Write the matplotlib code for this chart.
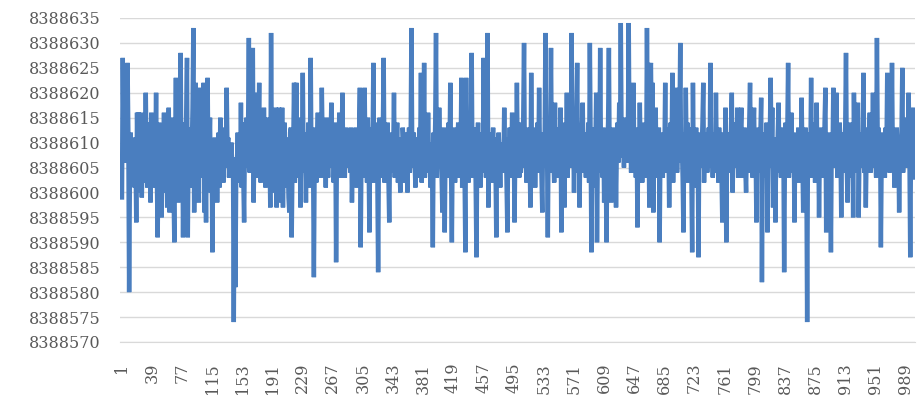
import matplotlib.pyplot as plt

# values, as offsets from BASE (8388600)
BASE = 8388600
offsets = [
    -1, 27, 10, 6, 12, 8, 9, 26, 12, -20, 4, 12, 2, 10, 5, 11, 1, 9, -6, 16,
    3, 16, 0, 12, 16, -1, 8, 2, 11, 4, 20, 6, 1, 14, 3, 9, -2, 16, 5, 10,
    1, 12, 7, 20, 3, -9, 9, 14, 2, 8, -5, 11, 4, 16, 0, 7, 13, -3, 10, 17,
    -4, 9, 2, 15, 6, 1, -10, 8, 23, 3, 12, -2, 9, 4, 28, 0, 14, -9, 11, 6,
    2, 16, 27, -9, 10, 4, 13, 1, 8, 17, 33, -4, 9, 22, 0, 12, 5, -2, 21, 7,
    11, 3, 14, 22, -4, 9, -6, 12, 23, 2, 8, 15, 0, 10, -12, 6, 3, 11, 5, 9,
    -2, 7, 12, 1, 15, 4, 10, 6, 2, 13, 8, 5, 21, 9, 11, 3, 8, 6, 10, 5,
    7, -26, 6, -19, 3, 6, 12, 4, 10, 2, 18, 1, 14, 3, -6, 11, 8, 15, 5, 13,
    31, 4, 12, 6, 18, 29, -2, 10, 15, 3, 20, 7, 12, 22, 5, 2, 14, 9, 4, 17,
    8, 1, 11, 6, 15, 2, 9, -3, 32, 5, 13, 0, 8, 4, 17, -3, 12, 6, 17, -2,
    10, 3, 17, -3, 9, 14, 1, 11, 5, 8, -1, -4, 12, 13, -9, 6, 10, 22, 2, 14,
    22, 5, 11, 3, 15, -3, 9, 6, 24, 4, 12, 8, -2, 10, 6, 14, 1, 9, 27, 3,
    12, 5, -17, 8, 13, 2, 10, 16, 4, 11, 7, 3, 21, 9, 14, 6, 12, 1, 15, 8,
    3, 13, 7, 10, 18, 5, 11, 2, 9, 14, -14, 7, 12, 4, 16, 8, 3, 10, 20, 6,
    11, 3, 9, 13, 5, 10, 7, 12, 4, 13, -2, 8, 11, 5, 9, 13, 1, 10, 6, 12,
    21, -11, 8, 14, 3, 10, 21, 6, 12, 2, 15, 7, -8, 11, 5, 13, 9, 26, 2, 14,
    7, 12, 4, -16, 9, 15, 3, 11, 6, 13, 27, 2, 10, 5, 10, 14, 3, -6, 9, 12,
    4, 11, 7, 20, 3, 12, 6, 14, 2, 9, 5, 0, 11, 4, 13, 10, 2, 8, 12, 5,
    0, 9, 13, 4, 10, 33, 8, 5, 12, 7, 1, 10, 6, 11, 3, 13, 8, 24, 2, 11,
    6, 26, 3, 12, 8, 4, 16, 7, 10, 1, 9, 5, -11, 12, 6, 14, 32, 3, 10, 5,
    17, 8, 11, 4, -4, 9, 13, -8, 10, 6, 12, 3, 14, 7, 22, 4, -10, 11, 6, 13,
    2, 9, 5, 10, 14, 3, 11, 6, 23, 1, 12, 8, 4, -12, 23, 5, 10, 2, 14, 7,
    12, 28, 3, 10, 6, 13, 2, -13, 9, 14, 5, 11, 1, 12, 8, 4, 27, 6, 13, 3,
    10, 32, -3, 9, 5, 12, 2, 8, 13, 4, 11, 6, -9, 10, 3, 12, 7, 1, 10, 5,
    9, 4, 17, 6, 11, 2, -8, 10, 5, 13, 3, 8, 16, 7, 11, -6, 9, 4, 22, 6,
    12, 3, 14, 4, 10, 7, 15, 30, 5, 11, 2, 13, 6, 10, 8, -3, 24, 5, 12, 7,
    13, 1, 10, 6, 14, 4, 21, 8, 11, 3, -4, 12, 7, 10, 32, 5, 9, -9, 13, 6,
    11, 29, 4, 12, 7, 2, 18, 6, 13, 3, 10, 8, 4, 17, -8, 9, 12, 5, -3, 14,
    6, 20, 3, 11, 8, 15, 5, 32, 9, 13, 0, 12, 7, 14, 26, 4, 10, -3, 11, 6,
    13, 18, 4, 9, 10, 3, 12, 6, 14, 2, 30, 8, -12, 10, 5, 13, 1, 9, 20, -10,
    8, 12, 4, 29, 7, 11, 3, 13, -2, 10, 6, -10, 9, 14, 29, 5, 12, -2, 10, 6,
    13, 4, 11, -3, 9, 14, 6, 18, 8, 34, 10, 7, 12, 5, 15, 9, 11, 6, 13, 34,
    8, 12, 4, 14, 9, 22, 6, 11, 3, 13, -7, 10, 5, 18, 7, 12, 2, 11, 6, 14,
    8, 3, 33, 10, 12, -3, 24, 26, 9, 22, -4, 11, 6, 17, 3, 12, 7, 13, -10, 9,
    5, 12, 3, 10, 7, 22, 4, 13, 8, 11, -3, 9, 14, 6, 24, 2, 12, 7, 10, 21,
    4, 11, 8, 13, 30, 6, 10, 3, -8, 12, 5, 21, 7, 14, 2, 11, 6, 13, 4, -12,
    22, 3, 10, 6, 13, 1, 9, -13, 12, 5, 11, 8, 14, 22, 2, 10, 6, 12, 4, 9,
    13, 5, 26, 7, 11, 3, 12, 8, 4, 20, 6, 10, 2, 13, 7, 11, 4, -6, 9, 12,
    5, 17, -10, 8, 12, 4, 10, 6, 13, 20, 0, 9, 14, 5, 11, 7, 17, 3, 10, 6,
    12, 17, 3, 10, 7, 13, 5, 0, 11, 8, 4, 14, 22, 6, 10, 3, 12, 17, 5, 9,
    -6, 10, 4, 13, 7, 11, 19, -18, 8, 12, 3, 6, 10, 14, -8, 9, 5, 12, 23, 7,
    17, -3, 11, 5, -6, 10, 4, 12, 18, 6, 9, 3, 13, 7, 11, -16, 8, 14, 5, 12,
    26, 3, 10, 6, 16, 8, 4, 12, -6, 9, 5, 11, 7, 13, 2, 10, 6, 19, 8, -4,
    11, 5, 13, 7, -26, 9, 4, 12, 6, 23, 3, 11, 8, 14, 2, 10, 18, 5, 12, -5,
    9, 4, 13, 7, 11, 3, 14, 21, -8, 10, 6, 12, 4, 9, -12, 11, 7, 21, 5, 13,
    8, 20, 3, 11, 6, 14, 9, -5, 12, 4, 10, 7, 13, 28, 5, -2, 11, 6, 14, 8,
    3, 12, -5, 20, 6, 11, 4, 13, 18, -5, 9, 5, 12, 7, 10, 24, 4, 11, -3, 9,
    13, 6, 11, 16, 4, 10, 7, 20, 5, 12, 8, 3, 31, 9, 13, 6, 11, -11, 8, 12,
    5, 10, 3, 13, 8, 24, 6, 11, 4, 14, 9, 26, 7, 12, 1, 10, 5, 13, 8, 11,
    -4, 9, 6, 12, 25, 4, 10, 7, 13, 15, 5, 11, 20, 8, -13, 10, 6, 14, 17, 3,
]
values = [BASE + v for v in offsets]
x = list(range(1, len(values) + 1))

xticks = list(range(1, len(values) + 1, 38))
yticks = list(range(8388570, 8388636, 5))

fig = plt.figure(figsize=(9.18, 4.03), dpi=100)
ax = fig.add_axes([120 / 918, 61 / 403, 795 / 918, 324 / 403])

ax.plot(x, values, color="#4A7EBF", linewidth=3.2, solid_joinstyle="miter")

ax.set_ylim(8388570, 8388635)
ax.set_xlim(-1.5, 1001)
ax.set_yticks(yticks)
ax.set_yticklabels([str(t) for t in yticks], fontsize=11.5,
                   family="DejaVu Serif", color="#595959")
ax.set_xticks(xticks)
ax.set_xticklabels([str(t) for t in xticks], rotation=90, fontsize=11.5,
                   family="DejaVu Serif", color="#595959")

ax.grid(axis="y", color="#D9D9D9", linewidth=1)
ax.set_axisbelow(True)
for s in ["top", "right", "left"]:
    ax.spines[s].set_visible(False)
ax.spines["bottom"].set_color("#D9D9D9")
ax.tick_params(length=0)
ax.tick_params(axis="y", pad=14)
ax.tick_params(axis="x", pad=15)

fig.savefig("out.png", dpi=100)
